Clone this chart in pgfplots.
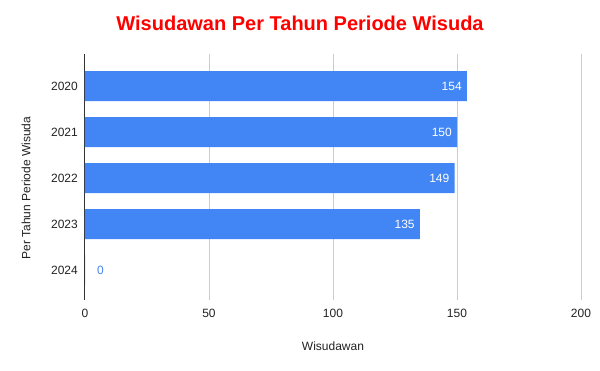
\documentclass[border=0pt]{standalone}
\usepackage{fontspec}
\setmainfont{Liberation Sans}
\usepackage{pgfplots}
\pgfplotsset{compat=1.18}
\definecolor{barblue}{HTML}{4285F4}
\definecolor{gridgray}{HTML}{CCCCCC}
\definecolor{axisdark}{HTML}{333333}
\definecolor{titlered}{HTML}{FF0000}
\definecolor{txt}{HTML}{222222}
\begin{document}
\begin{tikzpicture}
\path[use as bounding box] (-85pt,-71pt) rectangle (515pt,300pt);
\begin{axis}[
  at={(0,0)}, anchor=south west,
  scale only axis, width=496pt, height=246pt,
  xmin=0, xmax=200, ymin=-0.652, ymax=4.696,
  xbar, bar width=30pt,
  axis line style={draw=none},
  xtick={50,100,150,200},
  extra x ticks={0},
  extra x tick style={grid style={draw=axisdark, line width=1pt}},
  xmajorgrids, grid style={draw=gridgray, line width=0.8pt},
  ytick={0,1,2,3,4}, yticklabels={2024,2023,2022,2021,2020},
  major tick length=0pt,
  /pgf/number format/assume math mode=true,
  tick label style={font=\fontsize{12}{14}\selectfont, text=txt, inner sep=0pt},
  xticklabel style={anchor=north, yshift=-9pt},
  yticklabel style={anchor=east, xshift=-7pt},
  title={Wisudawan Per Tahun Periode Wisuda},
  title style={at={(axis description cs:0.4335,1)}, anchor=base, yshift=17pt,
    font=\fontsize{20}{24}\selectfont\bfseries, text=titlered, inner sep=0pt},
  xlabel={Wisudawan},
  xlabel style={at={(axis description cs:0.5,0)}, anchor=center, yshift=-46pt,
    font=\fontsize{12}{14}\selectfont, text=txt, inner sep=0pt},
  ylabel={Per Tahun Periode Wisuda},
  ylabel style={at={([xshift=-59pt]axis description cs:0,0.455)}, anchor=center,
    font=\fontsize{12}{14}\selectfont, text=txt, inner sep=0pt},
  clip=false,
]
\addplot[xbar, bar shift=0pt, fill=barblue, draw=none,
  nodes near coords,
  every node near coord/.append style={anchor=east, xshift=-5pt, text=white,
    font=\fontsize{12}{14}\selectfont, inner sep=0pt}]
  coordinates {(154,4) (150,3) (149,2) (135,1)};
\addplot[xbar, bar shift=0pt, fill=barblue, draw=none,
  nodes near coords,
  every node near coord/.append style={anchor=west, xshift=12pt, text=barblue,
    font=\fontsize{12}{14}\selectfont, inner sep=0pt}]
  coordinates {(0,0)};
\end{axis}
\end{tikzpicture}
\end{document}
